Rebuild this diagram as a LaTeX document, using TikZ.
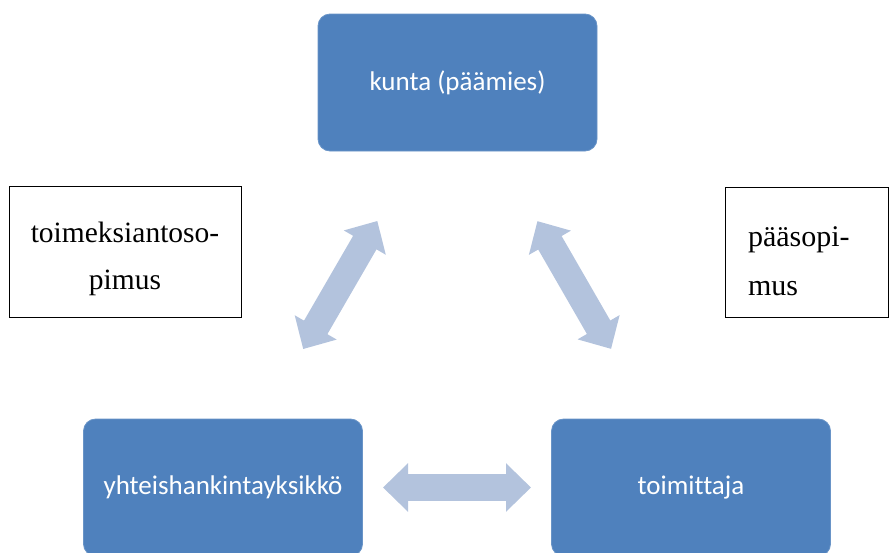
\documentclass[tikz,border=0pt]{standalone}
\usepackage{fontspec}
\setmainfont{Liberation Serif}
\newfontfamily\partyfont[Ligatures=CommonOff]{Carlito}
\usetikzlibrary{arrows.meta}
\definecolor{partyblue}{HTML}{4F81BD}
\definecolor{linkblue}{HTML}{B3C3DD}

% struts that fix the first baseline and the last depth of a two-line label
\newcommand{\firstline}[1]{\rule{0pt}{#1}}
\newcommand{\lastline}{\rule[-10pt]{0pt}{10pt}}

\begin{document}
\begin{tikzpicture}[x=1pt,y=-1pt,
  party/.style={rectangle, rounded corners=12pt, fill=partyblue,
    draw=partyblue!85!white, line width=0.8pt,
    minimum width=279pt, minimum height=137pt, inner sep=0pt,
    text=white, font=\partyfont\fontsize{27}{31}\selectfont},
  deal/.style={rectangle, draw=black, line width=0.9pt, fill=white,
    inner ysep=0pt},
  link/.style={linkblue, line width=27pt,
    {Triangle[width=47pt,length=25pt]}-{Triangle[width=47pt,length=25pt]},
    shorten <=160pt, shorten >=160pt}]

  \useasboundingbox (0,0) rectangle (889,552);
  \clip (0,0) rectangle (889,552);

  % the three parties
  \node[party] (kunta) at (457.5,82.5) {kunta (päämies)};
  \node[party] (yksikko) at (223,487.5) {yhteishankintayksikkö};
  \node[party] (toimittaja) at (691,487.5) {toimittaja};

  % the contracts between them
  \node[deal, minimum width=232pt, minimum height=131pt, inner xsep=0pt,
        align=center, font=\fontsize{29.5}{47}\selectfont]
        (toimeksianto) at (125,251.5)
        {\firstline{38pt}toimeksiantoso-\\pimus\lastline};
  \node[deal, minimum height=130pt, inner xsep=23pt,
        text width=117pt, align=left, font=\fontsize{30}{49}\selectfont]
        (paasopimus) at (806.5,252)
        {\firstline{47pt}pääsopi-\\mus\lastline};

  % two-way relations
  \draw[link] (kunta.center) -- (yksikko.center);
  \draw[link] (kunta.center) -- (toimittaja.center);
  \draw[link] (yksikko.center) -- (toimittaja.center);
\end{tikzpicture}
\end{document}
